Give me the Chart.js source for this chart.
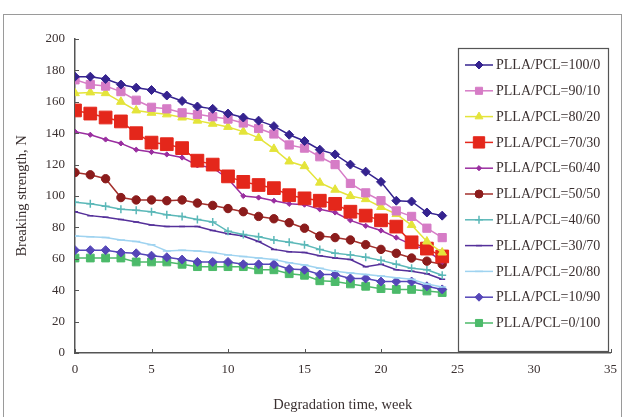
<!DOCTYPE html>
<html>
<head>
<meta charset="utf-8">
<script src="https://cdn.jsdelivr.net/npm/chart.js@4/dist/chart.umd.min.js"></script>
<style>
  html, body { margin: 0; padding: 0; background: #ffffff; }
  #wrap { width: 626px; height: 417px; position: relative; }
</style>
</head>
<body>
<div id="wrap"><canvas id="c" width="626" height="417"></canvas></div>
<script>
// ---- data ----
const weeks = [0,1,2,3,4,5,6,7,8,9,10,11,12,13,14,15,16,17,18,19,20,21,22,23,24];
const seriesNames = [
  'PLLA/PCL=100/0','PLLA/PCL=90/10','PLLA/PCL=80/20','PLLA/PCL=70/30',
  'PLLA/PCL=60/40','PLLA/PCL=50/50','PLLA/PCL=40/60','PLLA/PCL=30/70',
  'PLLA/PCL=20/80','PLLA/PCL=10/90','PLLA/PCL=0/100'
];
const s100_0 = [176,176,174.5,171,169,167.5,164,160.5,157,155.5,152.5,150,148,144.5,139,135,129.5,126.5,120,115.5,109,97,96.5,89.5,87.5];
const s90_10 = [174,171,170,166.5,161,156.5,155.5,153,152,150.5,149,146.5,143,139.5,132.5,130.5,125,120,108,102,97,90.5,87,79.5,73.5];
const s80_20 = [165.5,166,165.5,160,154.5,153,152,150,148,146,144,141,137,130,122,119,108.5,104,100,98,93,88.5,81.5,71,64];
const s70_30 = [154.5,152.5,150,147.5,140,134,133,130.5,122.5,120,112.5,109,107,105,100.5,98.5,97,95,90,87.5,84.5,80.5,70.5,66.5,61.5];
const s60_40 = [141,139,136,133.5,129.5,128,126.5,124.5,119.5,118,111,100,99,97,95,94.5,91.5,89.5,84.5,81,78,73.5,69,65.5,58];
const s50_50 = [115,113.5,111,99,97.5,97.5,97,97.5,95.5,94,92,90,87,85.5,83,79.5,74.5,73.5,72,69,66,63.5,60.5,58.5,56.5];
const s40_60 = [96,95,93.5,91.5,91,90,88,87,85,83.5,77.5,75.5,74,72,70.5,69,66,63.5,62.5,61,59,56.5,54,53,49.5];
const s30_70 = [90,87.5,86.5,85,83.5,81.5,80.5,80.5,80.5,78,76,74.5,71,66,64.5,64,62,60.5,59.5,55,56.5,53,52,50.5,47];
const s20_80 = [74.5,74,73.5,72,71,69,65,65.5,65,64,62.5,61.5,60.5,59.5,57.5,56,54,52,51,50,49,48,47,44,42];
const s10_90 = [65.5,65.5,65.5,64,63.5,62,61,59.5,58,58,58,56.5,56.5,56.5,53.5,53,50,50,47.5,47.5,45.5,45.5,45.5,42.5,40.5];
const s0_100 = [60.5,60.5,60.5,60.5,58,58,58,56.5,55,55,55,55,53,53,50.5,49.5,46,45.5,44,42.5,41,40.5,40.5,39.5,38.5];
const xTicks = [0,5,10,15,20,25,30,35];
const yTicks = [0,20,40,60,80,100,120,140,160,180,200];

const allSeries = [s100_0,s90_10,s80_20,s70_30,s60_40,s50_50,s40_60,s30_70,s20_80,s10_90,s0_100];

// ---- styles ----
const styles = [
  {c:'#35238f', m:'rectRot', r:4.5, lr:4},
  {c:'#d67cc6', m:'rect',    r:5.8, lr:5},
  {c:'#e4e43a', m:'triangle',r:5,   lr:4.5},
  {c:'#e4271b', m:'rect',    r:9,   lr:8},
  {c:'#9a2ea0', m:'rectRot', r:2.6, lr:2.6},
  {c:'#8b1c1c', m:'circle',  r:4.2, lr:4},
  {c:'#5bb8b8', m:'cross',   r:4,   lr:4},
  {c:'#55309a', m:'line',    r:3,   lr:3},
  {c:'#9fd3f0', m:'line',    r:4,   lr:4},
  {c:'#5546b8', m:'rectRot', r:4.5, lr:4},
  {c:'#4cba6a', m:'rect',    r:5.5, lr:5}
];
const lineColors = ['#35238f','#d67cc6','#e4e43a','#e4271b','#9a2ea0','#a3302c','#5bb8b8','#55309a','#9fd3f0','#5546b8','#4cba6a'];

const datasets = allSeries.map((vals, i) => ({
  label: seriesNames[i],
  data: weeks.map((w, k) => ({x: w, y: vals[k]})),
  borderColor: lineColors[i],
  backgroundColor: styles[i].c,
  pointBackgroundColor: styles[i].c,
  pointBorderColor: styles[i].c,
  pointBorderWidth: (styles[i].m === 'cross' || styles[i].m === 'line') ? 1.5 : 1,
  pointStyle: styles[i].m,
  pointRadius: styles[i].r,
  borderWidth: 1.5,
  tension: 0,
  fill: false
}));

const SERIF = "'Liberation Serif', 'DejaVu Serif', serif";

const inwardTicks = {
  id: 'inwardTicks',
  afterDraw(chart) {
    const ctx = chart.ctx;
    const xs = chart.scales.x, ys = chart.scales.y;
    ctx.save();
    ctx.strokeStyle = '#555';
    ctx.lineWidth = 1;
    xTicks.forEach(v => {
      const px = Math.round(xs.getPixelForValue(v)) + 0.5;
      ctx.beginPath(); ctx.moveTo(px, ys.bottom); ctx.lineTo(px, ys.bottom - 4); ctx.stroke();
    });
    yTicks.forEach(v => {
      const py = Math.round(ys.getPixelForValue(v)) + 0.5;
      ctx.beginPath(); ctx.moveTo(xs.left, py); ctx.lineTo(xs.left + 4, py); ctx.stroke();
    });
    ctx.restore();
  }
};

const frame = {
  id: 'frame',
  beforeDraw(chart) {
    const ctx = chart.ctx;
    ctx.save();
    ctx.fillStyle = '#ffffff';
    ctx.fillRect(0, 0, chart.width, chart.height);
    ctx.strokeStyle = '#9a9a9a';
    ctx.lineWidth = 1;
    ctx.strokeRect(3.5, 14.5, 618, 410);
    ctx.restore();
  }
};

const boxLegend = {
  id: 'boxLegend',
  afterDraw(chart) {
    const ctx = chart.ctx;
    ctx.save();
    ctx.fillStyle = '#ffffff';
    ctx.fillRect(458, 48, 150, 303);
    ctx.strokeStyle = '#555';
    ctx.lineWidth = 1.2;
    ctx.strokeRect(458.5, 48.5, 150, 303);
    chart.data.datasets.forEach((ds, i) => {
      const y = 65 + i * 25.8;
      ctx.strokeStyle = ds.borderColor;
      ctx.lineWidth = 1.5;
      ctx.beginPath(); ctx.moveTo(465, y); ctx.lineTo(493, y); ctx.stroke();
      ctx.fillStyle = ds.pointBackgroundColor;
      ctx.strokeStyle = ds.pointBorderColor;
      ctx.lineWidth = ds.pointBorderWidth;
      Chart.helpers.drawPoint(ctx, {pointStyle: ds.pointStyle, rotation: 0, borderWidth: ds.pointBorderWidth, radius: styles[i].lr}, 479, y);
      ctx.fillStyle = '#3a3030';
      ctx.font = "14px " + SERIF;
      ctx.textAlign = 'left';
      ctx.textBaseline = 'middle';
      ctx.fillText(ds.label, 496, y + 0.5);
    });
    ctx.restore();
  }
};

new Chart(document.getElementById('c'), {
  type: 'line',
  data: { datasets },
  options: {
    responsive: false,
    animation: false,
    devicePixelRatio: 1,
    layout: { padding: { left: 5, right: 15, top: 39, bottom: 3 } },
    plugins: { legend: { display: false }, tooltip: { enabled: false } },
    scales: {
      x: {
        type: 'linear', min: 0, max: 35,
        afterBuildTicks: s => { s.ticks = xTicks.map(v => ({value: v})); },
        afterFit: s => { s.height = 61; },
        grid: { display: true, drawOnChartArea: false, drawTicks: false },
        border: { display: true, color: '#555', width: 1.5 },
        ticks: { color: '#3a3030', padding: 9, font: { family: SERIF, size: 13 }, maxRotation: 0 },
        title: { display: true, text: 'Degradation time, week', color: '#3a3030', padding: { top: 0, bottom: 0 }, font: { family: SERIF, size: 14.5 } }
      },
      y: {
        type: 'linear', min: 0, max: 200,
        afterBuildTicks: s => { s.ticks = yTicks.map(v => ({value: v})); },
        afterFit: s => { s.width = 70; },
        grid: { display: true, drawOnChartArea: false, drawTicks: false },
        border: { display: true, color: '#555', width: 1.5 },
        ticks: { color: '#3a3030', padding: 10, font: { family: SERIF, size: 13 } },
        title: { display: true, text: 'Breaking strength, N', color: '#3a3030', padding: { top: 8, bottom: 0 }, font: { family: SERIF, size: 14.5 } }
      }
    }
  },
  plugins: [frame, inwardTicks, boxLegend]
});
</script>
</body>
</html>
